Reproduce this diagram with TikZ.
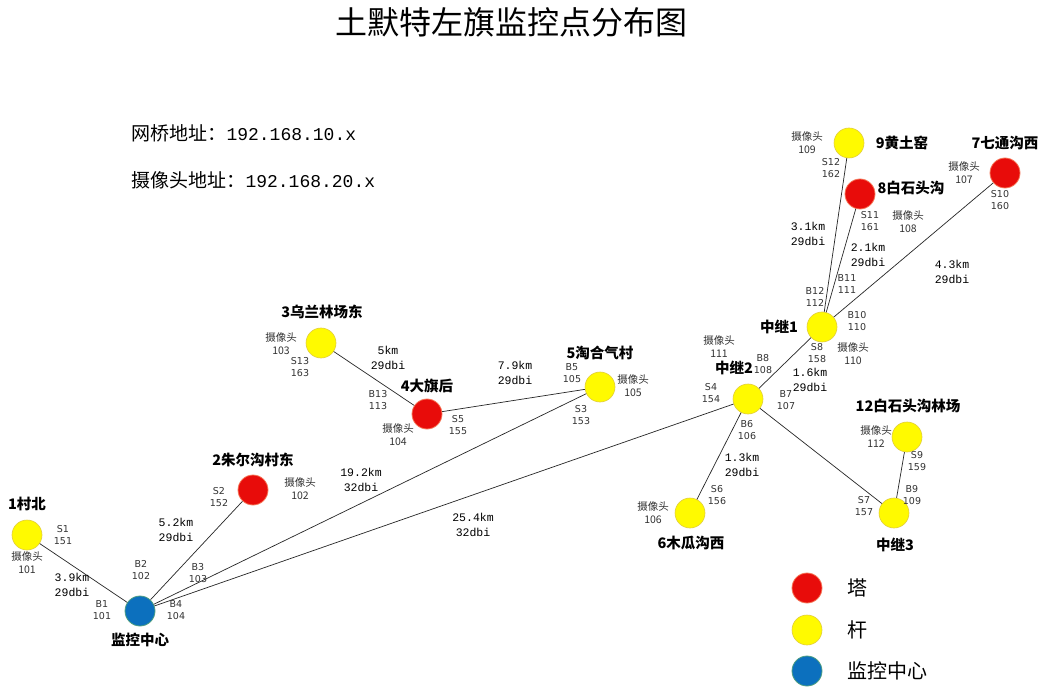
\documentclass[tikz,border=0pt]{standalone}
\usepackage{fontspec}
\setmainfont{Liberation Mono}
\newfontfamily\cjk{Noto Sans CJK SC}
\newfontfamily\portfont{DejaVu Sans}
\definecolor{tared}{RGB}{232,12,10}
\definecolor{taedge}{RGB}{245,120,90}
\definecolor{ganyellow}{RGB}{255,250,0}
\definecolor{ganedge}{RGB}{225,205,60}
\definecolor{zxblue}{RGB}{12,112,190}
\definecolor{zxedge}{RGB}{80,160,130}
\usetikzlibrary{positioning}
\begin{document}
\begin{tikzpicture}[x=1pt,y=-1pt,
  ta/.style={circle,draw=taedge,fill=tared,line width=0.8pt,minimum size=30pt,inner sep=0pt},
  gan/.style={circle,draw=ganedge,fill=ganyellow,line width=0.6pt,minimum size=30pt,inner sep=0pt},
  zx/.style={circle,draw=zxedge,fill=zxblue,line width=0.8pt,minimum size=30pt,inner sep=0pt},
  stname/.style={font=\cjk\bfseries\fontsize{14.5}{17}\selectfont},
  cam/.style={font=\cjk\fontsize{10.5}{13}\selectfont,align=center,text=black!80},
  port/.style={font=\portfont\fontsize{9.5}{12.5}\selectfont,align=center,text=black!80},
  dist/.style={font=\fontsize{11.5}{15}\selectfont,align=center},
  wire/.style={draw=black!85,line width=0.7pt},
  legendtext/.style={font=\cjk\fontsize{20}{24}\selectfont,anchor=west}]
\path[fill=white] (0,0) rectangle (1046,692);
\node[font=\cjk\fontsize{32}{36}\selectfont] (title) at (511,22) {土默特左旗监控点分布图};
\node[anchor=west] (ipbridge) at (128,133) {{\cjk\fontsize{19}{22}\selectfont 网桥地址：}{\fontsize{18}{22}\selectfont 192.168.10.x}};
\node[anchor=west] (ipcam) at (128,180) {{\cjk\fontsize{19}{22}\selectfont 摄像头地址：}{\fontsize{18}{22}\selectfont 192.168.20.x}};
% stations
\node[gan] (cb) at (27,535) {};
\node[zx] (jk) at (140,611) {};
\node[ta] (zr) at (253,490) {};
\node[gan] (wl) at (321,343) {};
\node[ta] (dq) at (427,414) {};
\node[gan] (th) at (600,387) {};
\node[gan] (zj2) at (748,399) {};
\node[gan] (zj1) at (822,327) {};
\node[gan] (ht) at (849,143) {};
\node[ta] (bs) at (860,194) {};
\node[ta] (qt) at (1005,173) {};
\node[gan] (lc) at (907,437) {};
\node[gan] (zj3) at (894,513) {};
\node[gan] (mg) at (690,513) {};
% links
\foreach \a/\b in {cb/jk, jk/zr, jk/th, jk/zj2, wl/dq, dq/th, zj2/zj1,
  zj1/ht, zj1/bs, zj1/qt, zj2/mg, zj2/zj3, lc/zj3}
  \draw[wire] (\a) -- (\b);
% edit here for the station names
\foreach \n/\x/\y/\t in {cb/27/504/1村北, jk/140/640/监控中心, zr/253/460/2朱尔沟村东,
  wl/322/312/3乌兰林场东, dq/427/386/4大旗后, th/600/353/5淘合气村,
  zj2/734/368/中继2, zj1/779/327/中继1, ht/902/143/9黄土窑, bs/911/188/8白石头沟,
  qt/1005/143/7七通沟西, lc/908/406/12白石头沟林场, zj3/895/545/中继3, mg/691/543/6木瓜沟西}
  \node[stname] (\n-name) at (\x,\y) {\t};
% edit here for the cameras
\foreach \n/\x/\y/\v in {cb/27/563/101, zr/300/489/102, wl/281/344/103, dq/398/435/104,
  th/633/386/105, mg/653/513/106, qt/964/173/107, bs/908/222/108, ht/807/143/109,
  zj1/853/354/110, zj2/719/347/111, lc/876/437/112}
  \node[cam] (\n-cam) at (\x,\y) {摄像头\\\v};
% edit here for the bridge ports
\foreach \p/\v/\x/\y in {S1/151/63/535, B1/101/102/610, B2/102/141/570, B3/103/198/573,
  B4/104/176/610, S2/152/219/497, S13/163/300/367, B13/113/378/400, S5/155/458/425,
  B5/105/572/373, S3/153/581/415, S4/154/711/393, B8/108/763/364, B7/107/786/400,
  B6/106/747/430, S8/158/817/353, B12/112/815/297, B11/111/847/284, B10/110/857/321,
  S12/162/831/168, S11/161/870/221, S10/160/1000/200, S6/156/717/495, S9/159/917/461,
  B9/109/912/495, S7/157/864/506}
  \node[port] (port-\p) at (\x,\y) {\p\\\v};
% edit here for the distances
\foreach \n/\x/\y/\d/\g in {d1/72/585/3.9km/29dbi, d2/176/530/5.2km/29dbi,
  d3/361/480/19.2km/32dbi, d4/473/525/25.4km/32dbi, d5/388/358/5km/29dbi,
  d6/515/373/7.9km/29dbi, d7/810/380/1.6km/29dbi, d8/808/234/3.1km/29dbi,
  d9/868/255/2.1km/29dbi, d10/952/272/4.3km/29dbi, d11/742/465/1.3km/29dbi}
  \node[dist] (\n) at (\x,\y) {\d\\\g};
% legend
\node[ta] (lg-ta) at (807,588) {};
\node[gan] (lg-gan) at (807,630) {};
\node[zx] (lg-zx) at (807,671) {};
\node[legendtext,right=22pt of lg-ta] (lg-ta-text) {塔};
\node[legendtext,right=22pt of lg-gan] (lg-gan-text) {杆};
\node[legendtext,right=22pt of lg-zx] (lg-zx-text) {监控中心};
\end{tikzpicture}
\end{document}
